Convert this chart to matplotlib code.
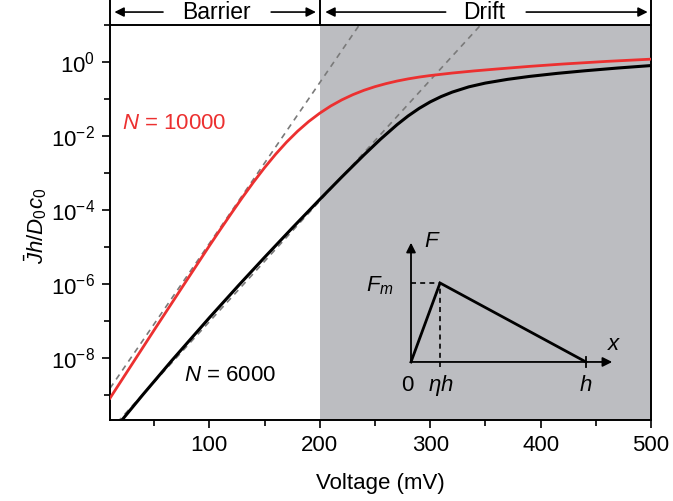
import numpy as np
import matplotlib
matplotlib.use('Agg')
import matplotlib.pyplot as plt
import matplotlib.transforms as mtransforms
from matplotlib.ticker import FixedLocator, NullFormatter

# values: voltage (mV) and log10 of the current
v_10000 = [10, 30, 50, 75, 100, 110, 120, 130, 140, 150, 160, 170, 180, 190,
           200, 210, 220, 230, 240, 250, 260, 270, 280, 290, 300, 320, 340,
           360, 390, 420, 460, 500]
logj_10000 = [-9.09, -8.17, -7.25, -6.11, -4.974, -4.530, -4.092, -3.664,
              -3.252, -2.862, -2.500, -2.170, -1.875, -1.615, -1.390, -1.195,
              -1.030, -0.890, -0.772, -0.674, -0.592, -0.522, -0.464, -0.415,
              -0.374, -0.306, -0.248, -0.198, -0.126, -0.063, 0.009, 0.069]

v_6000 = [18, 40, 66, 100, 127, 150, 175, 200, 220, 240, 255, 270, 280, 290,
          300, 310, 320, 335, 350, 370, 390, 415, 440, 470, 500]
logj_6000 = [-9.784, -8.988, -8.073, -6.917, -6.026, -5.285, -4.495, -3.720,
             -3.112, -2.520, -2.094, -1.701, -1.466, -1.261, -1.086, -0.941,
             -0.821, -0.679, -0.577, -0.477, -0.397, -0.315, -0.245, -0.170,
             -0.104]

# straight asymptotes (dashed), two end points each
v_dash_10000 = [10, 236]
j_dash_10000 = [1.5e-9, 10]
v_dash_6000 = [10, 346]
j_dash_6000 = [1.1e-10, 10]

# inset sketch of the field profile
eta = 0.166
x_field = [0, eta, 1]
f_field = [0, 1, 0]

y_major = [1e-8, 1e-6, 1e-4, 1e-2, 1e0]
y_labels = ['$10^{-8}$', '$10^{-6}$', '$10^{-4}$', '$10^{-2}$', '$10^{0}$']
y_minor = [1e-9, 1e-7, 1e-5, 1e-3, 1e-1, 1e1]

plt.rcParams['font.family'] = ['Liberation Sans', 'DejaVu Sans']
plt.rcParams['mathtext.fontset'] = 'custom'
plt.rcParams['mathtext.rm'] = 'Liberation Sans'
plt.rcParams['mathtext.it'] = 'Liberation Sans:italic'
plt.rcParams['mathtext.bf'] = 'Liberation Sans:bold'

red = '#ec3030'
grey_fill = '#bcbdc1'
dash_col = '#7a7a7a'

fig = plt.figure(figsize=(6.73, 5.01), dpi=100)
ax = fig.add_axes([110 / 673, 1 - 420 / 501, 541 / 673, 395.3 / 501])

ax.axvspan(200, 500, color=grey_fill, lw=0, zorder=0)
ax.plot(v_dash_10000, j_dash_10000, color=dash_col, lw=1.2, dashes=(3.5, 3), zorder=2)
ax.plot(v_dash_6000, j_dash_6000, color=dash_col, lw=1.2, dashes=(3.5, 3), zorder=2)
ax.plot(v_10000, 10.0 ** np.array(logj_10000), color=red, lw=2.0, zorder=3)
ax.plot(v_6000, 10.0 ** np.array(logj_6000), color='black', lw=2.2, zorder=3)

ax.set_yscale('log')
ax.set_xlim(10, 500)
ax.set_ylim(10 ** -9.68, 10)

ax.xaxis.set_major_locator(FixedLocator([100, 200, 300, 400, 500]))
ax.xaxis.set_minor_locator(FixedLocator([50, 150, 250, 350, 450]))
ax.yaxis.set_major_locator(FixedLocator(y_major))
ax.yaxis.set_minor_locator(FixedLocator(y_minor))
ax.set_yticklabels(y_labels)
ax.yaxis.set_minor_formatter(NullFormatter())

ax.tick_params(which='both', direction='out', width=1.2, labelsize=16)
ax.tick_params(which='major', length=6, pad=5)
ax.tick_params(which='minor', length=4.5)
for s in ax.spines.values():
    s.set_linewidth(1.4)

ax.set_xlabel('Voltage (mV)', fontsize=16, labelpad=12)
ax.set_ylabel(r'$\bar{J}h/D_{\mathit{0}}c_{\mathit{0}}$', fontsize=16)
ax.yaxis.set_label_coords(-0.112, 0.49)

ax.text(21, 2.2e-2, '$N$ = 10000', color=red, fontsize=16, va='center', ha='left')
ax.text(77, 3.4e-9, '$N$ = 6000', color='black', fontsize=16, va='center', ha='left')

# header band: Barrier / Drift
trans = mtransforms.blended_transform_factory(ax.transData, ax.transAxes)
for xv in [10, 200, 500]:
    ax.plot([xv, xv], [1, 1.07], color='black', lw=1.4, transform=trans, clip_on=False)
hy = 1.032
arrow = dict(arrowstyle='-|>', color='black', lw=1.2, mutation_scale=14, shrinkA=0, shrinkB=0)
ax.annotate('', xy=(14, hy), xytext=(58, hy), xycoords=trans, textcoords=trans, arrowprops=arrow)
ax.annotate('', xy=(196.5, hy), xytext=(156, hy), xycoords=trans, textcoords=trans, arrowprops=arrow)
ax.text(106, hy, 'Barrier', transform=trans, ha='center', va='center', fontsize=16.5)
ax.annotate('', xy=(205, hy), xytext=(314, hy), xycoords=trans, textcoords=trans, arrowprops=arrow)
ax.annotate('', xy=(497, hy), xytext=(387, hy), xycoords=trans, textcoords=trans, arrowprops=arrow)
ax.text(349, hy, 'Drift', transform=trans, ha='center', va='center', fontsize=16.5)

# inset
ins = fig.add_axes([0.5327, 0.2066, 0.4030, 0.3310])
ins.set_xlim(-0.3, 1.25)
ins.set_ylim(-0.45, 1.65)
ins.axis('off')
ins_arrow = dict(arrowstyle='-|>', color='black', lw=1.3, mutation_scale=14, shrinkA=0, shrinkB=0)
ins.annotate('', xy=(1.15, 0), xytext=(0, 0), arrowprops=ins_arrow)
ins.annotate('', xy=(0, 1.51), xytext=(0, 0), arrowprops=ins_arrow)
ins.plot(x_field, f_field, color='black', lw=2.0, solid_joinstyle='miter')
ins.plot([0, eta], [1, 1], color='black', lw=1.2, dashes=(3, 2.5))
ins.plot([eta, eta], [-0.06, 1], color='black', lw=1.2, dashes=(3, 2.5))
ins.plot([1, 1], [-0.06, 0.06], color='black', lw=1.3)
ins.text(0.12, 1.53, '$F$', fontsize=16, ha='center', va='center')
ins.text(-0.1, 0.96, '$F_m$', fontsize=16, ha='right', va='center')
ins.text(1.16, 0.22, '$x$', fontsize=16, ha='center', va='center')
ins.text(-0.02, -0.3, '0', fontsize=16, ha='center', va='center')
ins.text(0.17, -0.3, r'$\eta h$', fontsize=16, ha='center', va='center')
ins.text(1.0, -0.3, '$h$', fontsize=16, ha='center', va='center')

fig.savefig('out.png', dpi=100)
